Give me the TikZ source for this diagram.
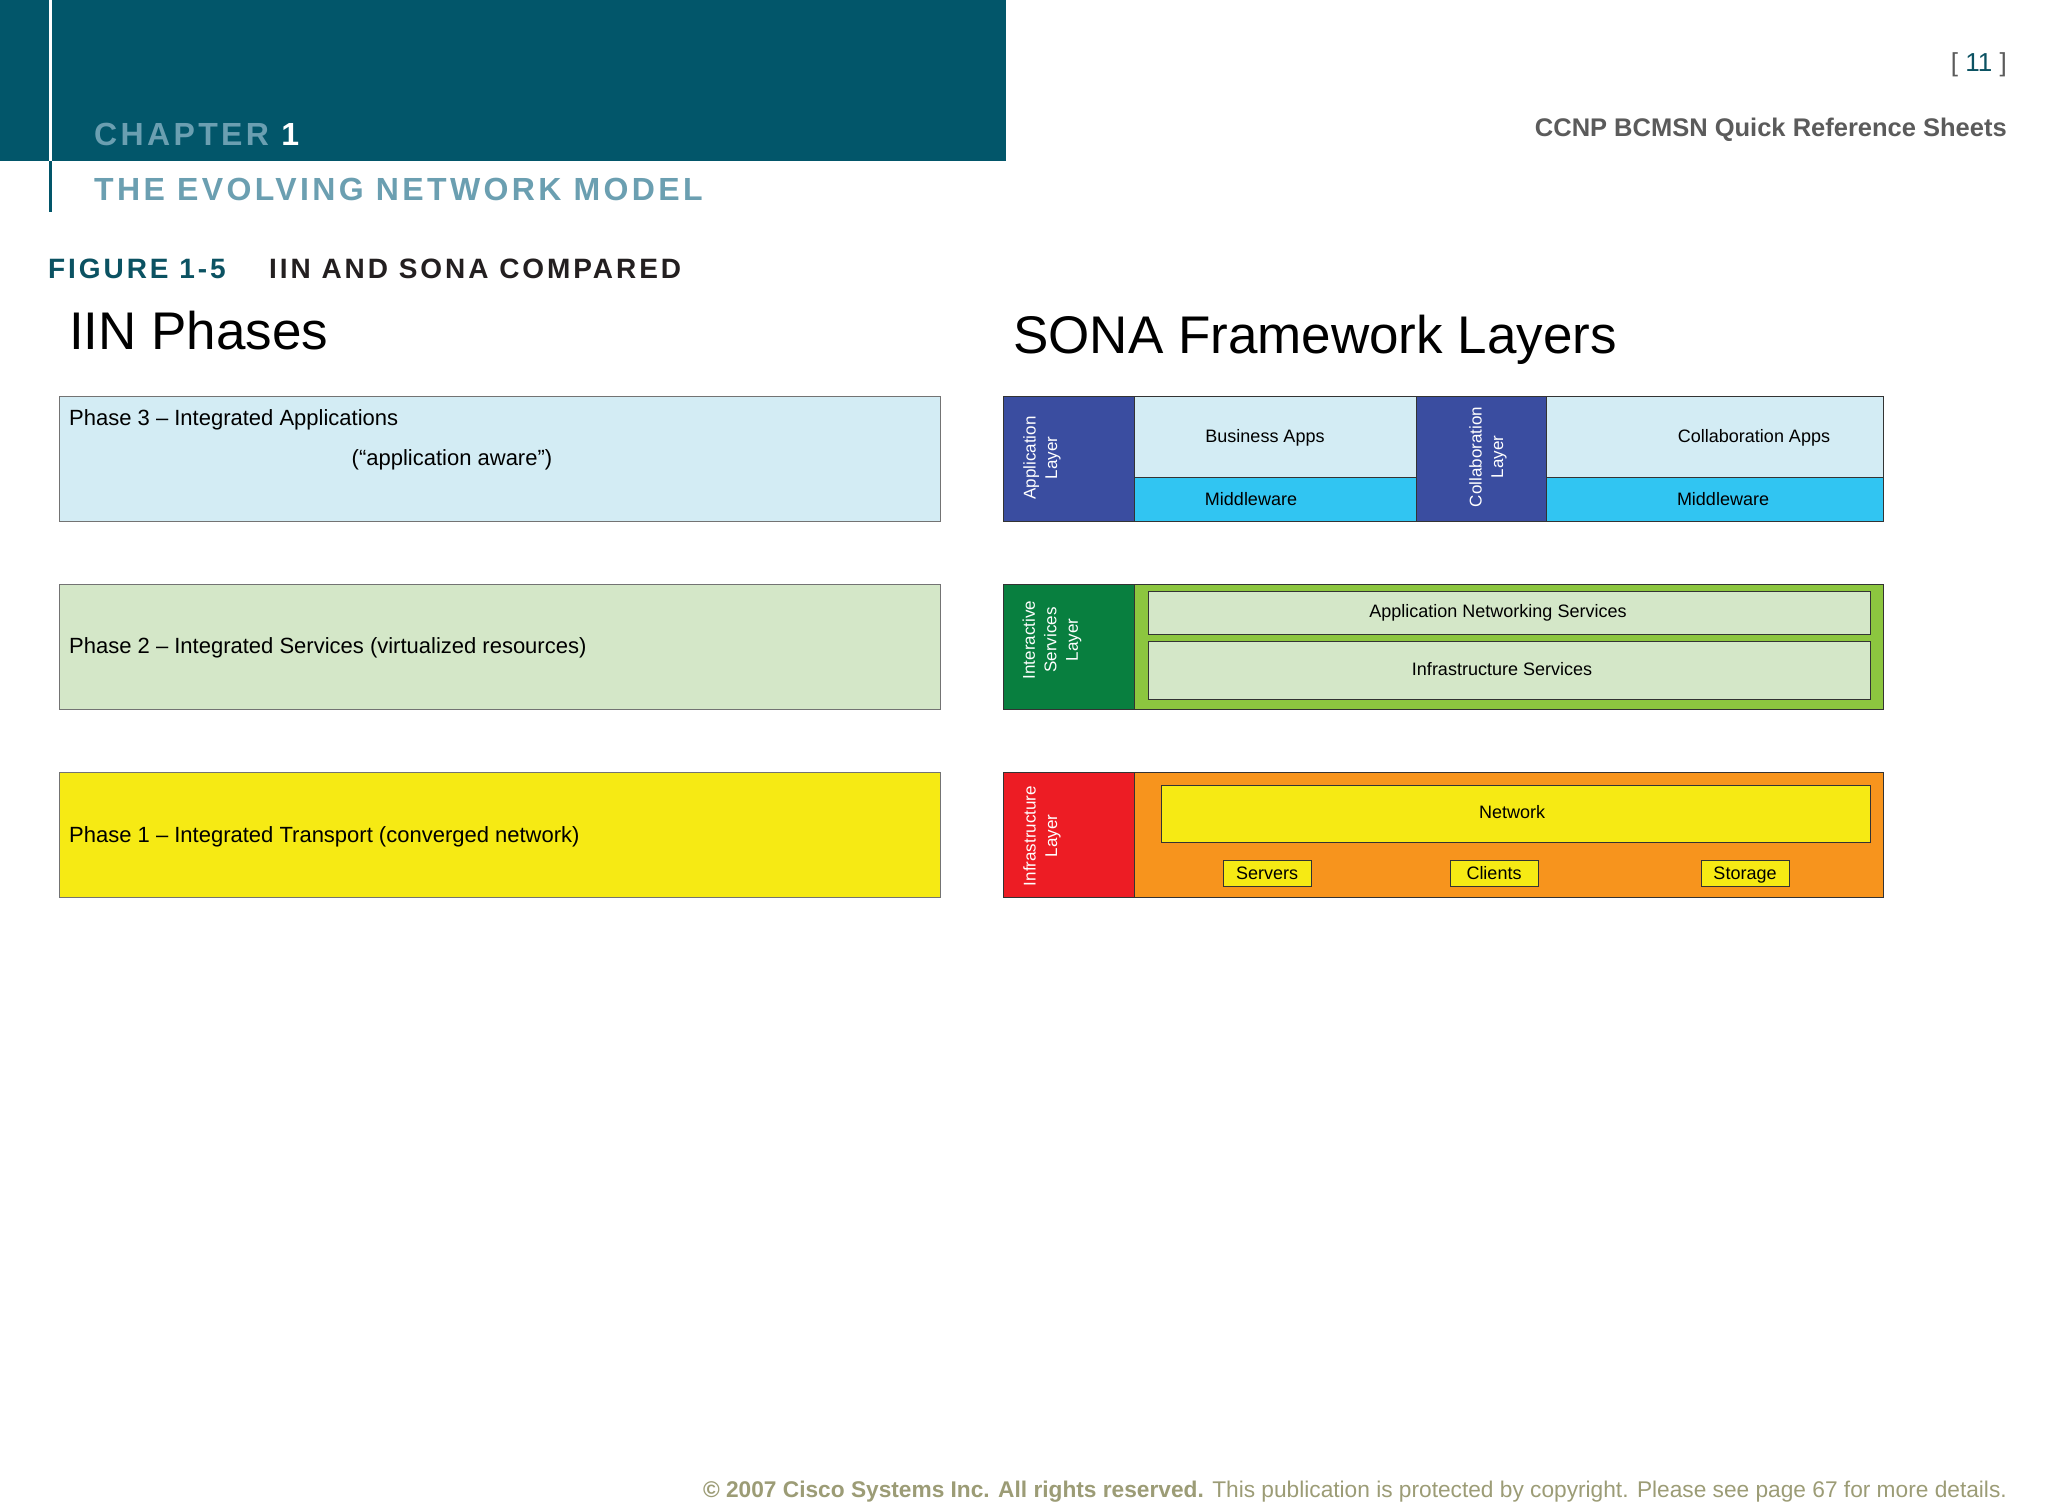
\documentclass[tikz,border=0pt]{standalone}
\usepackage{fontspec}
\setmainfont{Liberation Sans}
\newfontfamily\headfont[LetterSpace=10.5]{Liberation Sans}
\usepackage{xcolor}
\usepackage{tikz}
\usetikzlibrary{positioning}

\definecolor{headteal}{HTML}{02566A}
\definecolor{chaptext}{HTML}{6B9FB1}
\definecolor{figteal}{HTML}{0B5262}
\definecolor{titleblack}{HTML}{231F20}
\definecolor{refgray}{HTML}{5B5B5B}
\definecolor{footolive}{HTML}{9C9C76}
\definecolor{phasethree}{HTML}{D3ECF4}
\definecolor{phasetwo}{HTML}{D4E7C8}
\definecolor{phaseone}{HTML}{F6EA14}
\definecolor{layerblue}{HTML}{3A4DA0}
\definecolor{midcyan}{HTML}{31C5F2}
\definecolor{layergreen}{HTML}{087F3F}
\definecolor{limegreen}{HTML}{8CC63F}
\definecolor{layerred}{HTML}{ED1C24}
\definecolor{infraorange}{HTML}{F7941D}

\tikzset{
    phaseline/.style={draw=black!55, line width=0.8pt},
    sonaline/.style={draw=black!80, line width=0.8pt},
    phasetext/.style={font=\fontsize{22}{26}\selectfont, inner sep=0pt},
    sonatext/.style={font=\fontsize{18}{21}\selectfont, inner sep=0pt},
    layertext/.style={font=\fontsize{17}{21.5}\selectfont, text=white,
        rotate=90, align=center, inner sep=0pt},
}

\begin{document}
\begin{tikzpicture}[x=1pt, y=-1pt]

    \useasboundingbox[fill=white] (0,0) rectangle (2048,1511);

    % Header
    \fill[headteal] (0,0) rectangle (1006,161);
    \draw[white, line width=3pt] (50,0) -- (50,161);
    \draw[headteal, line width=3pt] (50,161) -- (50,212);

    \node[anchor=base west, inner sep=0pt, font=\headfont\bfseries\fontsize{32}{36}\selectfont]
        (chap) at (94,146) {\textcolor{chaptext}{CHAPTER} \textcolor{white}{1}};
    \node[anchor=base west, inner sep=0pt, text=chaptext,
        font=\headfont\bfseries\fontsize{32}{36}\selectfont]
        (chaptitle) at (94,201) {THE EVOLVING NETWORK MODEL};

    \node[anchor=base east, inner sep=0pt, font=\fontsize{26}{30}\selectfont]
        (pagenum) at (2007,72)
        {\textcolor{refgray}{[} \textcolor{figteal}{11} \textcolor{refgray}{]}};
    \node[anchor=base east, inner sep=0pt, text=refgray,
        font=\bfseries\fontsize{25.5}{30}\selectfont]
        (series) at (2007,137) {CCNP BCMSN Quick Reference Sheets};

    % Figure title
    \node[anchor=base west, inner sep=0pt, text=figteal,
        font=\headfont\bfseries\fontsize{28}{32}\selectfont]
        (fignum) at (48,279) {FIGURE 1-5};
    \node[anchor=base west, inner sep=0pt, text=titleblack,
        font=\headfont\bfseries\fontsize{28}{32}\selectfont]
        (figtitle) at (269,279) {IIN AND SONA COMPARED};

    \node[anchor=base west, inner sep=0pt, font=\fontsize{53}{60}\selectfont]
        (iinhead) at (69,350) {IIN Phases};
    \node[anchor=base west, inner sep=0pt, font=\fontsize{53}{60}\selectfont]
        (sonahead) at (1013,354) {SONA Framework Layers};

    % IIN phases
    \draw[phaseline, fill=phasethree] (59,396) rectangle (940,521);
    \draw[phaseline, fill=phasetwo] (59,584) rectangle (940,709);
    \draw[phaseline, fill=phaseone] (59,772) rectangle (940,897);

    \node[phasetext, anchor=base west] (phthree) at (69,425)
        {Phase 3 – Integrated Applications};
    \node[phasetext, anchor=base] (phaware) at (452,465)
        {(“application aware”)};
    \node[phasetext, anchor=base west] (phtwo) at (69,653)
        {Phase 2 – Integrated Services (virtualized resources)};
    \node[phasetext, anchor=base west] (phone) at (69,842)
        {Phase 1 – Integrated Transport (converged network)};

    % SONA application layer
    \draw[sonaline, fill=layerblue] (1003,396) rectangle (1134,521);
    \draw[sonaline, fill=phasethree] (1134,396) rectangle (1416,477);
    \draw[sonaline, fill=midcyan] (1134,477) rectangle (1416,521);
    \draw[sonaline, fill=layerblue] (1416,396) rectangle (1546,521);
    \draw[sonaline, fill=phasethree] (1546,396) rectangle (1883,477);
    \draw[sonaline, fill=midcyan] (1546,477) rectangle (1883,521);

    \node[layertext] (applayer) at (1042,458) {Application\\Layer};
    \node[layertext] (collablayer) at (1488,457) {Collaboration\\Layer};
    \node[sonatext, anchor=base] (busapps) at (1265,442) {Business Apps};
    \node[sonatext, anchor=base] (midone) at (1251,505) {Middleware};
    \node[sonatext, anchor=base] (collabapps) at (1754,442) {Collaboration Apps};
    \node[sonatext, anchor=base] (midtwo) at (1723,505) {Middleware};

    % SONA interactive services layer
    \draw[sonaline, fill=layergreen] (1003,584) rectangle (1134,709);
    \draw[sonaline, fill=limegreen] (1134,584) rectangle (1883,709);
    \draw[sonaline, fill=phasetwo] (1148,591) rectangle (1870,634);
    \draw[sonaline, fill=phasetwo] (1148,641) rectangle (1870,699);

    \node[layertext] (servlayer) at (1052,640) {Interactive\\Services\\Layer};
    \node[sonatext, anchor=base] (appnet) at (1498,617) {Application Networking Services};
    \node[sonatext, anchor=base] (infraserv) at (1502,675) {Infrastructure Services};

    % SONA infrastructure layer
    \draw[sonaline, fill=layerred] (1003,772) rectangle (1134,897);
    \draw[sonaline, fill=infraorange] (1134,772) rectangle (1883,897);
    \draw[sonaline, fill=phaseone] (1161,785) rectangle (1870,842);
    \draw[sonaline, fill=phaseone] (1223,860) rectangle (1311,886);
    \draw[sonaline, fill=phaseone] (1450,860) rectangle (1538,886);
    \draw[sonaline, fill=phaseone] (1701,860) rectangle (1789,886);

    \node[layertext] (infralayer) at (1042,836) {Infrastructure\\Layer};
    \node[sonatext, anchor=base] (network) at (1512,818) {Network};
    \node[sonatext, anchor=base] (servers) at (1267,879) {Servers};
    \node[sonatext, anchor=base] (clients) at (1494,879) {Clients};
    \node[sonatext, anchor=base] (storage) at (1745,879) {Storage};

    % Footer
    \node[anchor=base east, inner sep=0pt, text=footolive, font=\fontsize{22.7}{26}\selectfont]
        (footer) at (2007,1497)
        {\textbf{© 2007 Cisco Systems Inc. All rights reserved.} This publication is protected by copyright. Please see page 67 for more details.};

\end{tikzpicture}
\end{document}
